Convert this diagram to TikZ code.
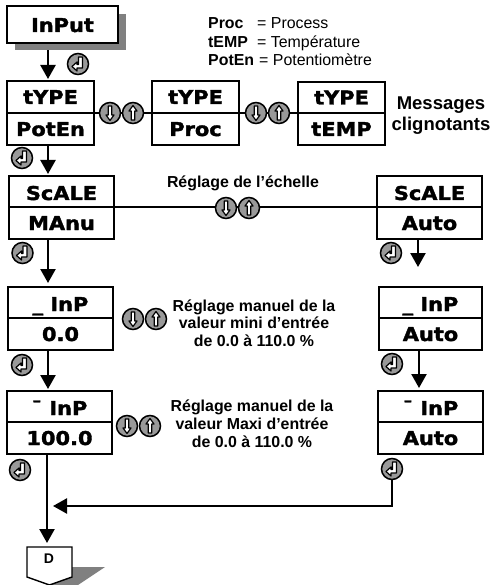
\documentclass[tikz,border=0pt]{standalone}
\usepackage{fontspec}
\setmainfont{Liberation Sans}
\newfontfamily\blk[BoldFeatures={FakeBold=1.8,FakeStretch=1.1}]{DejaVu Sans}
\usetikzlibrary{arrows.meta}
\pgfdeclarelayer{bg}
\pgfsetlayers{bg,main}
\tikzset{
  boxpart/.style={draw=black,line width=1.6pt,fill=white,inner sep=0pt,outer sep=0pt,align=center,
    font=\blk\bfseries\fontsize{19}{19}\selectfont,text depth=0pt},
  arr/.style={line width=2.4pt,-{Triangle[length=14pt,width=15pt]}},
  link/.style={line width=1.5pt},
  glyph/.style={draw=black,line width=1.2pt,fill=white,line join=round},
  btn/.style={circle,draw=black,line width=1.5pt,fill=btngray,minimum size=21pt,inner sep=0pt,outer sep=0pt},
  btnup/.style={btn,path picture={\begin{scope}[shift={(path picture bounding box.center)}]
     \path[glyph] (0,-7.5)--(4,-2)--(1.8,-2)--(1.8,7)--(-1.8,7)--(-1.8,-2)--(-4,-2)--cycle;\end{scope}}},
  btndown/.style={btn,path picture={\begin{scope}[shift={(path picture bounding box.center)}]
     \path[glyph] (0,7.5)--(4,2)--(1.8,2)--(1.8,-7)--(-1.8,-7)--(-1.8,2)--(-4,2)--cycle;\end{scope}}},
  btnenter/.style={btn,path picture={\begin{scope}[shift={(path picture bounding box.center)}]
     \path[glyph] (0.5,-7)--(4.5,-7)--(4.5,4)--(-1,4)--(-1,7)--(-6,2.5)--(-1,-2)--(-1,0.5)--(0.5,0.5)--cycle;\end{scope}}},
  note/.style={font=\bfseries\fontsize{15.9}{15.9}\selectfont,anchor=base,inner sep=0pt},
  legend/.style={font=\fontsize{15.9}{15.9}\selectfont,anchor=base west,inner sep=0pt},
  legendb/.style={legend,font=\bfseries\fontsize{15.9}{15.9}\selectfont},
  big/.style={font=\bfseries\fontsize{18.5}{18.5}\selectfont,anchor=base,inner sep=0pt}
}
\definecolor{btngray}{HTML}{999999}
\definecolor{shadowgray}{HTML}{808080}
% name, x1, x2, ytop, ydiv, ybot, top text, bottom text, top text height
\newcommand\twobox[9]{%
  \node[boxpart,minimum width={(#3-#2)*1pt},minimum height={(#5-#4)*1pt},text height=#9pt] (#1-t) at ({(#2+#3)/2},{(#4+#5)/2}) {#7};
  \node[boxpart,minimum width={(#3-#2)*1pt},minimum height={(#6-#5)*1pt},text height=14pt] (#1-b) at ({(#2+#3)/2},{(#5+#6)/2}) {#8};
}
\begin{document}
\begin{tikzpicture}[x=1pt,y=-1pt]
\useasboundingbox (0,0) rectangle (492,585);
% shadows
\fill[shadowgray] (15,14) rectangle (126,50);
\fill[shadowgray] (70,567) -- (105,567) -- (78,585) -- (48,585) -- cycle;
% boxes
\node[boxpart,minimum width=111pt,minimum height=37pt,text height=15pt] (input) at (62.5,24.5) {InPut};
\twobox{a}{7}{94}{81}{113}{145}{tYPE}{PotEn}{14}
\twobox{b}{152}{239}{81}{113}{145}{tYPE}{Proc}{14}
\twobox{c}{298}{385}{82}{113}{145}{tYPE}{tEMP}{14}
\twobox{d}{9}{114}{176}{207}{239}{ScALE}{MAnu}{17}
\twobox{e}{377}{482}{176}{207}{239}{ScALE}{Auto}{17}
\twobox{f}{8}{113}{287}{318}{350}{\_ InP}{0.0}{17}
\twobox{g}{379}{482}{287}{318}{350}{\_ InP}{Auto}{17}
\twobox{h}{7}{112}{391}{422}{454}{¯ InP}{100.0}{17}
\twobox{i}{378}{483}{391}{422}{454}{¯ InP}{Auto}{17}
% end marker
\coordinate (dtop) at (49,547);
\draw[line width=1.4pt,fill=white] (27,547) -- (72,547) -- (72,577) -- (49.5,585) -- (27,577) -- cycle;
\node[inner sep=0pt,font=\bfseries\fontsize{14}{14}\selectfont,anchor=base] (dlabel) at (49,563) {D};
% buttons
\node[btndown] (u1) at (110,113) {};
\node[btnup] (u2) at (133,113) {};
\node[btndown] (u3) at (256,113) {};
\node[btnup] (u4) at (279,113) {};
\node[btndown] (u5) at (226,208) {};
\node[btnup] (u6) at (249,208) {};
\node[btndown] (u7) at (133,319) {};
\node[btnup] (u8) at (156,319) {};
\node[btndown] (u9) at (127,426) {};
\node[btnup] (u10) at (150,426) {};
\node[btnenter] (k1) at (78,64) {};
\node[btnenter] (k2) at (22,158) {};
\node[btnenter] (k3) at (22.5,253) {};
\node[btnenter] (k4) at (22,365) {};
\node[btnenter] (k5) at (20,470) {};
\node[btnenter] (k6) at (391,253) {};
\node[btnenter] (k7) at (392,364) {};
\node[btnenter] (k8) at (392,469) {};
\coordinate (merge) at (47,506);
% connectors
\begin{pgfonlayer}{bg}
\draw[link] (a-b.north east) -- (b-b.north west);
\draw[link] (b-b.north east) -- (c-b.north west);
\draw[link] (d-b.north east) -- (e-b.north west);
\draw[arr,shorten >=2pt] ([xshift=-14.5pt]input.south) -- ([xshift=-2.5pt]a-t.north);
\draw[arr,shorten >=2pt] ([xshift=-2.5pt]a-b.south) -- ([xshift=-13.5pt]d-t.north);
\draw[arr,shorten >=4pt] ([xshift=-13.5pt]d-b.south) -- ([xshift=-12.5pt]f-t.north);
\draw[arr,shorten >=2pt] ([xshift=-12.5pt]f-b.south) -- ([xshift=-11.5pt]h-t.north);
\draw[arr,shorten >=4pt] ([xshift=-12.5pt]h-b.south) -- ([xshift=-2pt]dtop);
\draw[arr,shorten >=20pt] ([xshift=-11.5pt]e-b.south) -- ([xshift=-12.5pt]g-t.north);
\draw[arr,shorten >=3pt] ([xshift=-11.5pt]g-b.south) -- ([xshift=-11.5pt]i-t.north);
\draw[arr,shorten >=6pt] (k8.south) |- (merge);
\end{pgfonlayer}
% legend
\node[legendb] (l1) at (208,29) {Proc};
\node[legend] (l1v) at (257,29) {= Process};
\node[legendb] (l2) at (208,47.5) {tEMP};
\node[legend] (l2v) at (257,47.5) {= Température};
\node[legendb] (l3) at (208,66) {PotEn};
\node[legend] (l3v) at (259,66) {= Potentiomètre};
% notes
\node[big] (m1) at (441,110) {Messages};
\node[big] (m2) at (441,131) {clignotants};
\node[note] (n0) at (243,188) {Réglage de l’échelle};
\node[note] (n1) at (254,311) {Réglage manuel de la};
\node[note] (n2) at (254,328.5) {valeur mini d’entrée};
\node[note] (n3) at (254,346.5) {de 0.0 à 110.0 \%};
\node[note] (n4) at (252,411) {Réglage manuel de la};
\node[note] (n5) at (252,429) {valeur Maxi d’entrée};
\node[note] (n6) at (252,447) {de 0.0 à 110.0 \%};
\end{tikzpicture}
\end{document}
